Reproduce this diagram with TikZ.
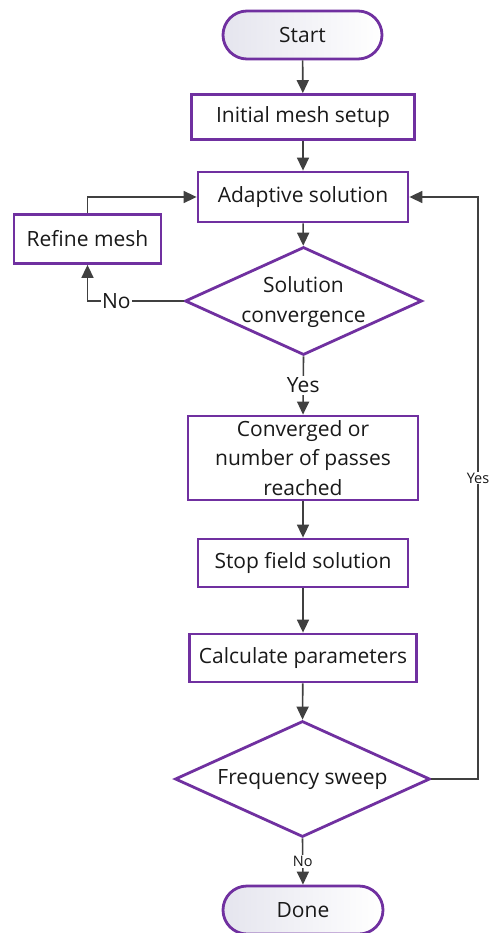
\documentclass[tikz,border=0pt]{standalone}
\usepackage{fontspec}
\setmainfont{Open Sans}
\usetikzlibrary{shapes.geometric,arrows.meta}
\definecolor{purp}{RGB}{112,48,160}
\definecolor{lin}{RGB}{64,64,64}
\definecolor{termL}{RGB}{229,229,238}
\definecolor{txt}{RGB}{25,25,25}
\tikzset{
  base/.style={draw=purp, line width=2.8pt, text=txt, inner sep=0pt, align=center,
    font=\fontsize{21}{29.5}\selectfont},
  box/.style={base, rectangle, fill=white},
  term/.style={base, rectangle, rounded corners=24pt, left color=termL, right color=white},
  dia/.style={base, diamond, fill=white},
  txtlbl/.style={text=txt, align=center, inner sep=0pt, font=\fontsize{21}{29.5}\selectfont},
  conn/.style={draw=lin, line width=1.6pt, -{Triangle[length=13pt,width=12pt]}},
  lbl/.style={fill=white, text=txt, inner sep=1.5pt, font=\fontsize{21}{25}\selectfont},
  slbl/.style={fill=white, text=txt, inner sep=1pt, font=\fontsize{14.5}{17}\selectfont},
}
\begin{document}
\begin{tikzpicture}[x=1pt,y=-1pt]
\useasboundingbox[fill=white] (0,0) rectangle (488,933);
% nodes
\node[term, minimum width=159, minimum height=48] (start) at (302.5,35) {Start};
\node[box, minimum width=223, minimum height=45] (init) at (303,117) {Initial mesh setup};
\node[box, minimum width=210, minimum height=50] (adapt) at (303,197) {Adaptive solution};
\node[box, minimum width=147, minimum height=49] (refine) at (87.5,239) {Refine mesh};
\node[dia, minimum width=237, minimum height=108] (sc) at (303.5,301) {};
\node[txtlbl] (sctext) at (303.5,302) {Solution\\convergence};
\node[box, minimum width=230, minimum height=84] (conv) at (303,458) {Converged or\\number of passes\\reached};
\node[box, minimum width=210, minimum height=48] (stop) at (303,563) {Stop field solution};
\node[box, minimum width=227, minimum height=48] (calc) at (303,658) {Calculate parameters};
\node[dia, minimum width=255, minimum height=116] (fs) at (302.5,779) {};
\node[txtlbl] (fstext) at (302.5,780) {Frequency sweep};
\node[term, minimum width=160, minimum height=48] (done) at (303,910) {Done};
\coordinate (r1) at (478,779);
\coordinate (r2) at (478,197);
% connectors
\draw[conn] (start) -- (init);
\draw[conn] (init) -- (adapt);
\draw[conn] (adapt) -- (sc);
\draw[conn] (sc.west) -| node[lbl, pos=0.35] {No} (refine.south);
\draw[conn] (refine.north) |- (adapt.west);
\draw[conn] (sc.south) -- node[lbl] {Yes} (conv.north);
\draw[conn] (conv) -- (stop);
\draw[conn] (stop) -- (calc);
\draw[conn] (calc) -- (fs.north);
\draw[conn] (fs.south) -- node[slbl] {No} (done.north);
\draw[conn] (fs.east) -- (r1) -- node[slbl, pos=0.517] {Yes} (r2) -- (adapt.east);
\end{tikzpicture}
\end{document}
